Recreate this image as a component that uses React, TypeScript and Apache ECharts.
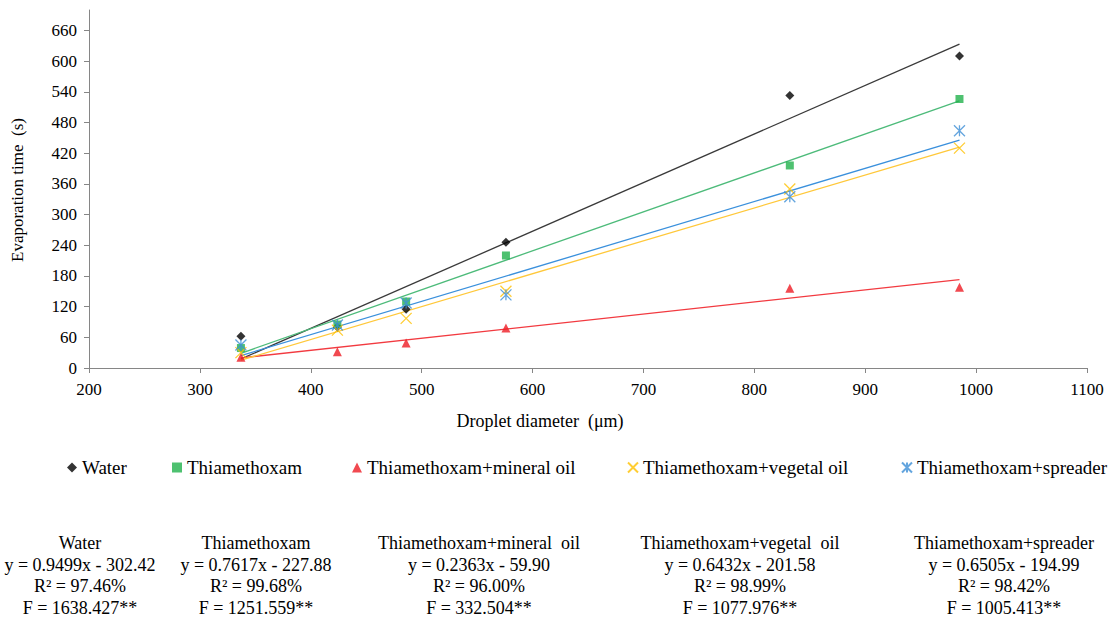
import React, { useEffect, useRef } from "react";
import * as echarts from "echarts";

const seriesNames = [
  "Water",
  "Thiamethoxam",
  "Thiamethoxam+mineral oil",
  "Thiamethoxam+vegetal oil",
  "Thiamethoxam+spreader",
];
const xValues = [337, 424, 486, 576, 832, 985];
const water = [62, 80, 115, 246, 533, 610];
const thiamethoxam = [39, 85, 130, 220, 396, 526];
const mineralOil = [21, 32, 49, 78, 156, 158];
const vegetalOil = [30, 74, 97, 150, 350, 430];
const spreader = [45, 84, 127, 143, 335, 464];

const slopes = [0.9499, 0.7617, 0.2363, 0.6432, 0.6505];
const intercepts = [-302.42, -227.88, -59.9, -201.58, -194.99];

const blockTitles = [
  "Water",
  "Thiamethoxam",
  "Thiamethoxam+mineral  oil",
  "Thiamethoxam+vegetal  oil",
  "Thiamethoxam+spreader",
];
const equations = [
  "y = 0.9499x - 302.42",
  "y = 0.7617x - 227.88",
  "y = 0.2363x - 59.90",
  "y = 0.6432x - 201.58",
  "y = 0.6505x - 194.99",
];
const r2Texts = ["R² = 97.46%", "R² = 99.68%", "R² = 96.00%", "R² = 98.99%", "R² = 98.42%"];
const fTexts = [
  "F = 1638.427**",
  "F = 1251.559**",
  "F = 332.504**",
  "F = 1077.976**",
  "F = 1005.413**",
];
const yTicks = [0, 60, 120, 180, 240, 300, 360, 420, 480, 540, 600, 660];

const allValues = [water, thiamethoxam, mineralOil, vegetalOil, spreader];
const markerColors = ["#000000", "#22B14C", "#ED1C24", "#FFC000", "#3D8FD6"];
const lineColors = ["#3a3a3a", "#4DBB7A", "#F23A40", "#FFC83A", "#3A90DC"];
const symbols = [
  "diamond",
  "rect",
  "triangle",
  "path://M0,0 L10,10 M10,0 L0,10",
  "path://M0,0 L10,10 M10,0 L0,10 M5,0 L5,10",
];
const symbolSizes = [9, 8, 9, 11, 11];

const legendLefts = [67, 172, 352, 627, 901];
const blockCenters = [80, 256, 479, 740, 1004];

const FONT = "'Liberation Serif', 'Times New Roman', serif";

export default function App() {
  const ref = useRef<HTMLDivElement>(null);
  useEffect(() => {
    document.body.style.margin = "0";
    if (!ref.current) return;
    const chart = echarts.init(ref.current, undefined, { renderer: "svg" });
    const xMin = Math.min(...xValues);
    const xMax = Math.max(...xValues);

    const scatterSeries = seriesNames.map((name, i) => {
      const stroked = i >= 3;
      return {
        name,
        type: "scatter",
        symbol: symbols[i],
        symbolSize: symbolSizes[i],
        z: 3,
        itemStyle: stroked
          ? { color: "rgba(0,0,0,0)", borderColor: markerColors[i], borderWidth: 1.3 }
          : { color: markerColors[i] },
        data: xValues.map((x, k) => [x, allValues[i][k]]),
      };
    });
    const trendSeries = seriesNames.map((name, i) => ({
      name: name + " trend",
      type: "line",
      symbol: "none",
      z: 2,
      lineStyle: { color: lineColors[i], width: 1.3 },
      data: [
        [xMin, slopes[i] * xMin + intercepts[i]],
        [xMax, slopes[i] * xMax + intercepts[i]],
      ],
    }));

    const legends = seriesNames.map((name, i) => ({
      data: [name],
      left: legendLefts[i],
      top: 458,
      padding: 0,
      itemWidth: 10,
      itemHeight: 10,
      itemGap: 4,
      selectedMode: false,
      textStyle: { fontFamily: FONT, fontSize: 19, color: "#000" },
    }));

    const blocks = seriesNames.map((_, i) => ({
      type: "text",
      x: blockCenters[i],
      y: 532,
      style: {
        text: [blockTitles[i], equations[i], r2Texts[i], fTexts[i]].join("\n"),
        fontFamily: FONT,
        fontSize: 18,
        fill: "#000",
        textAlign: "center",
        lineHeight: 21.7,
      },
    }));

    chart.setOption({
      animation: false,
      backgroundColor: "#fff",
      grid: { left: 89, right: 29, top: 10, bottom: 251 },
      xAxis: {
        type: "value",
        min: 200,
        max: 1100,
        interval: 100,
        splitLine: { show: false },
        axisLine: { lineStyle: { color: "#868686", width: 1 } },
        axisTick: { show: true, length: 5, lineStyle: { color: "#868686" } },
        axisLabel: {
          fontFamily: FONT,
          fontSize: 17,
          color: "#000",
          margin: 13,
          formatter: (v: number) => String(v),
        },
      },
      yAxis: {
        type: "value",
        min: 0,
        max: 700,
        interval: 60,
        splitLine: { show: false },
        axisLine: { show: true, lineStyle: { color: "#868686", width: 1 } },
        axisTick: { show: true, length: 5, lineStyle: { color: "#868686" }, customValues: yTicks },
        axisLabel: {
          fontFamily: FONT,
          fontSize: 17,
          color: "#000",
          margin: 12,
          customValues: yTicks,
          formatter: (v: number) => String(v),
        },
      },
      legend: legends,
      graphic: [
        {
          type: "text",
          x: 17,
          y: 190,
          rotation: Math.PI / 2,
          style: {
            text: "Evaporation time  (s)",
            fontFamily: FONT,
            fontSize: 17,
            fill: "#000",
            textAlign: "center",
            textVerticalAlign: "middle",
          },
        },
        {
          type: "text",
          x: 540,
          y: 421,
          style: {
            text: "Droplet diameter  (μm)",
            fontFamily: FONT,
            fontSize: 18,
            fill: "#000",
            textAlign: "center",
            textVerticalAlign: "middle",
          },
        },
        ...blocks,
      ],
      series: [...trendSeries, ...scatterSeries],
    });
    return () => chart.dispose();
  }, []);
  return <div ref={ref} style={{ width: 1116, height: 619 }} />;
}
